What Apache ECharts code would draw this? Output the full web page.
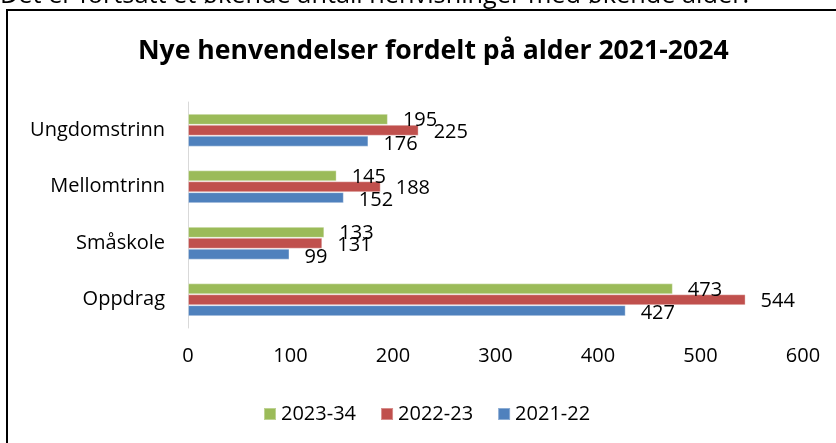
<!DOCTYPE html>
<html>
<head>
<meta charset="utf-8">
<script src="https://cdn.jsdelivr.net/npm/echarts@6/dist/echarts.min.js"></script>
<style>
html,body{margin:0;padding:0;background:#fff;}
#c{width:836px;height:443px;}
</style>
</head>
<body>
<div id="c"></div>
<script>
var categories = ['Oppdrag', 'Småskole', 'Mellomtrinn', 'Ungdomstrinn'];
var s2021 = [427, 99, 152, 176];
var s2022 = [544, 131, 188, 225];
var s2023 = [473, 133, 145, 195];
var seriesNames = ['2021-22', '2022-23', '2023-34'];
var legendOrder = ['2023-34', '2022-23', '2021-22'];
var xTicks = [0, 100, 200, 300, 400, 500, 600];

var FONT = 'Open Sans';
var chart = echarts.init(document.getElementById('c'), null, {renderer: 'canvas'});

function mkSeries(name, data, color, offY) {
  return {
    name: name,
    type: 'bar',
    data: data,
    barGap: '0%',
    barCategoryGap: '42%',
    itemStyle: {color: color, borderColor: 'rgba(255,255,255,0.35)', borderWidth: 1},
    label: {
      show: true,
      position: 'right',
      distance: 15,
      offset: [0, offY],
      color: '#000',
      fontFamily: FONT,
      fontSize: 20
    },
    emphasis: {disabled: true},
    animation: false
  };
}

chart.setOption({
  animation: false,
  title: {
    text: 'Nye henvendelser fordelt på alder 2021-2024',
    left: 133,
    top: 33,
    textStyle: {fontFamily: FONT, fontWeight: 'bold', fontSize: 26.6, color: '#000'}
  },
  graphic: [
    {
      type: 'rect',
      shape: {x: 7, y: 10, width: 840, height: 450},
      style: {fill: '#fff', stroke: '#000', lineWidth: 2},
      z: -1
    },
    {
      type: 'text',
      x: 0,
      y: 8,
      style: {text: 'Det er fortsatt et økende antall henvisninger med økende alder.', font: '25.3px "Open Sans"', fill: '#000', verticalAlign: 'bottom'}
    }
  ],
  legend: {
    data: legendOrder,
    left: 258,
    top: 399,
    itemWidth: 12,
    itemHeight: 12,
    itemGap: 24,
    icon: 'rect',
    textStyle: {fontFamily: FONT, fontSize: 20, color: '#000'}
  },
  grid: {left: 188, right: 33, top: 102, bottom: 115, containLabel: false},
  xAxis: {
    type: 'value',
    min: xTicks[0],
    max: xTicks[xTicks.length - 1],
    interval: 100,
    axisLine: {show: false},
    axisTick: {show: false},
    splitLine: {show: false},
    axisLabel: {margin: 18, color: '#000', fontFamily: FONT, fontSize: 20}
  },
  yAxis: {
    type: 'category',
    data: categories,
    axisLine: {show: true, lineStyle: {color: '#d9d9d9', width: 1}},
    axisTick: {show: false},
    axisLabel: {margin: 23, color: '#000', fontFamily: FONT, fontSize: 20}
  },
  series: [
    mkSeries(seriesNames[2], s2023, '#9BBB59', 1),
    mkSeries(seriesNames[1], s2022, '#C0504D', 2),
    mkSeries(seriesNames[0], s2021, '#4F81BD', 3)
  ]
});
</script>
</body>
</html>
